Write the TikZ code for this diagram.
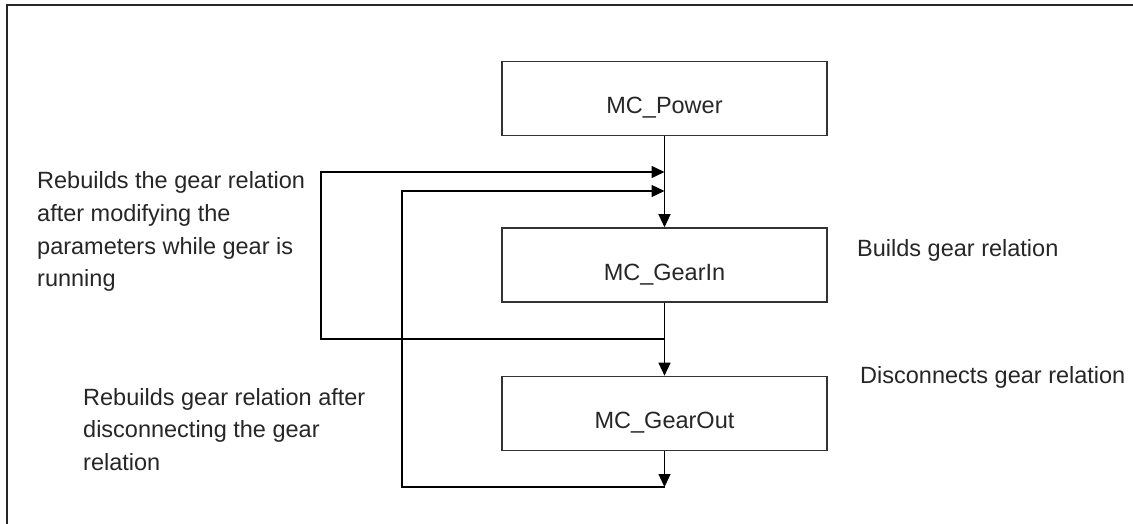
\documentclass[tikz,border=0pt]{standalone}
\usepackage{fontspec}
\setmainfont{Liberation Sans}
\usetikzlibrary{arrows.meta}
\tikzset{
  px/.style={x={(1pt,0)},y={(0,-1pt)}},
  txt/.style={inner sep=0pt, align=left, font=\fontsize{23.5}{32.7}\selectfont, text=black!85},
  fb/.style={draw=black!80, line width=1.6pt, minimum width=325pt, minimum height=74pt, inner sep=0pt,
             font=\fontsize{23.5}{28}\selectfont, text=black!85, text height=30pt, text depth=0pt},
  conn/.style={draw=black, line width=1.3pt},
  arr/.style={conn, -{Triangle[length=13pt,width=12pt]}},
  frame/.style={draw=black!85, line width=1.5pt}
}
\begin{document}
\begin{tikzpicture}[px]
\useasboundingbox (0,0) rectangle (1133,524);
\draw[frame] (7,524) -- (7,5) -- (1133,5);

\node[fb] (power)   at (664.5,98.5)  {MC\_Power};
\node[fb] (gearin)  at (664.5,265)   {MC\_GearIn};
\node[fb] (gearout) at (664.5,413.5) {MC\_GearOut};

\coordinate (t1)  at (664.5,172);
\coordinate (t2)  at (664.5,191);
\coordinate (j1)  at (664.5,339);
\coordinate (c1a) at (321,339);
\coordinate (c1b) at (321,172);
\coordinate (e2)  at (664.5,487);
\coordinate (c2a) at (402,487);
\coordinate (c2b) at (402,191);

\draw[arr] (power) -- (gearin);
\draw[arr] (gearin) -- (gearout);
\draw[arr] (j1) -- (c1a) -- (c1b) -- (t1);
\draw[arr] (gearout) -- (e2);
\draw[arr] (e2) -- (c2a) -- (c2b) -- (t2);

\node[txt, anchor=base west] (l1) at (37,286.8) {Rebuilds the gear relation\\after modifying the\\parameters while gear is\\running};
\node[txt, anchor=base west] (l2) at (83,470.4) {Rebuilds gear relation after\\disconnecting the gear\\relation};
\node[txt, anchor=base west] (r1) at (857,256.7) {Builds gear relation};
\node[txt, anchor=base west] (r2) at (860,383) {Disconnects gear relation};
\end{tikzpicture}
\end{document}
